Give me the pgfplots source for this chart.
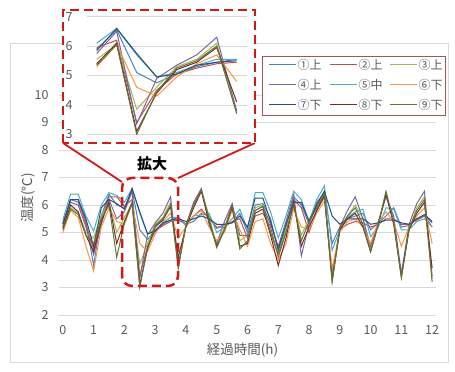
\documentclass[border=0pt]{standalone}
\usepackage{fontspec}
\setmainfont{Noto Sans CJK JP}
\usepackage{pgfplots}
\pgfplotsset{compat=1.18}
\usepackage{pgfplotstable}
\definecolor{c1}{HTML}{4F81BD}
\definecolor{c2}{HTML}{C0504D}
\definecolor{c3}{HTML}{9BBB59}
\definecolor{c4}{HTML}{8064A2}
\definecolor{c5}{HTML}{4BACC6}
\definecolor{c6}{HTML}{F79646}
\definecolor{c7}{HTML}{2C4D75}
\definecolor{c8}{HTML}{772C2A}
\definecolor{c9}{HTML}{5F7530}
\definecolor{gridgray}{HTML}{D9D9D9}
\definecolor{labelgray}{HTML}{595959}
\definecolor{zoomred}{RGB}{210,25,25}
\definecolor{legborder}{RGB}{165,85,85}

\pgfplotstableread{
t s1 s2 s3 s4 s5 s6 s7 s8 s9
0 5.3 5.2 5.2 5.35 5.45 5.0 5.3 5.15 5.1
0.25 6.2 6.2 5.9 6.1 6.4 5.8 6.2 6.0 5.85
0.5 6.1 6.2 5.7 6.0 6.4 5.55 6.2 5.75 5.65
0.75 5.4 5.3 5.0 5.2 5.6 4.5 5.5 4.9 4.9
1 3.8 4.4 4.8 4.2 5.05 3.6 4.5 4.3 4.6
1.25 5.6 5.5 5.6 5.3 6.0 5.2 5.9 5.4 5.5
1.5 6.4 6.3 6.1 6.2 6.45 5.9 6.2 6.1 6.0
1.75 6.0 6.3 5.0 5.5 6.35 5.4 6.05 4.6 4.1
2 5.9 5.95 5.55 5.75 6.1 5.3 5.85 5.4 5.35
2.25 6.55 6.2 6.05 6.5 6.6 6.05 6.6 6.1 6.05
2.5 5.1 3.4 3.85 3.35 5.7 4.6 5.75 3.1 3.0
2.75 4.75 4.5 4.6 4.9 4.95 4.3 4.95 4.4 4.45
3 5.05 5.05 5.3 5.35 5.1 4.95 5.05 5.2 5.25
3.25 5.3 5.25 5.55 5.7 5.35 5.4 5.35 5.45 5.5
3.5 5.45 5.4 6.1 6.3 5.55 5.7 5.45 5.95 6.0
3.75 5.55 5.45 3.75 3.8 5.55 4.8 5.5 4.1 3.7
4 5.3 5.3 5.3 5.25 5.25 5.2 5.4 5.2 5.25
4.25 5.4 5.6 6.0 6.1 5.6 5.6 5.5 5.9 6.0
4.5 5.7 5.85 6.55 6.6 5.65 5.8 5.6 6.5 6.55
4.75 5.6 5.5 5.6 5.3 5.7 5.2 5.5 5.4 5.5
5 5.15 5.2 4.5 4.6 5.0 4.7 5.3 4.5 4.45
5.25 5.3 5.2 5.2 5.4 5.2 5.0 5.3 5.1 5.1
5.5 5.35 5.4 6.0 6.05 5.5 5.8 5.35 5.9 6.0
5.75 5.7 5.5 4.7 4.9 5.85 5.1 5.6 4.5 4.4
6 5.0 4.8 4.9 4.9 5.1 4.5 5.2 4.6 4.7
6.25 6.0 5.6 5.9 5.8 6.45 5.4 6.25 5.7 5.8
6.5 6.05 5.7 6.0 5.95 6.45 5.5 6.25 5.85 5.95
6.75 5.5 5.2 5.0 5.3 5.75 4.6 5.4 4.9 5.0
7 4.3 4.1 4.2 4.5 4.8 4.0 4.4 3.8 4.2
7.25 5.2 5.0 5.1 5.4 5.6 4.6 5.3 4.8 5.0
7.5 6.3 6.2 6.0 6.4 6.5 5.85 6.1 6.1 6.0
7.75 6.0 5.9 4.9 4.15 6.2 5.2 6.1 4.5 4.7
8 5.3 5.0 5.5 5.3 5.4 5.1 5.4 5.2 5.4
8.25 6.0 5.8 5.9 6.1 6.2 5.7 6.0 5.8 5.9
8.5 6.5 6.3 6.4 6.45 6.7 6.15 6.5 6.35 6.4
8.75 4.6 3.5 3.3 3.4 4.35 3.7 5.6 3.25 3.2
9 5.2 5.1 5.15 5.2 5.1 5.0 5.3 5.1 5.15
9.25 5.5 5.3 5.6 5.8 5.55 5.4 5.5 5.5 5.6
9.5 5.6 5.4 6.0 6.3 5.75 5.5 5.5 5.7 5.9
9.75 5.7 5.35 5.5 5.5 5.85 5.2 5.5 5.2 5.3
10 5.1 5.2 4.4 4.5 4.85 4.6 5.3 4.3 4.3
10.25 5.35 5.3 5.3 5.4 5.2 5.4 5.35 5.3 5.3
10.5 5.6 5.5 6.4 6.3 5.9 5.75 5.45 6.4 6.5
10.75 5.9 5.5 5.4 5.6 5.85 5.4 5.45 5.3 5.4
11 5.2 5.3 3.4 3.5 5.1 4.5 5.35 3.4 3.35
11.25 5.25 5.3 5.1 5.3 5.1 5.2 5.3 5.1 5.15
11.5 5.5 5.45 5.9 6.05 5.4 5.6 5.5 5.7 5.8
11.75 5.6 5.6 6.3 6.5 5.5 5.9 5.65 6.1 6.2
12 5.35 5.2 3.3 3.4 5.2 4.6 5.4 3.7 3.2
}\datatable

\pgfplotsset{
  mystyle/.style={
    scale only axis,
    axis line style={draw=none},
    major tick length=0pt,
    ymajorgrids,
    grid style={gridgray, line width=0.75pt},
    tick label style={font=\fontsize{12.5}{14}\selectfont, text=labelgray},
    /pgf/number format/assume math mode=true,
    every axis plot/.append style={line width=1pt, mark=none},
  },
}
\newcommand{\legitem}[4]{% x, y, color, text
  \draw[draw=#3, line width=1pt] (#1,#2) -- ({#1+27},#2);
  \node[anchor=west, inner sep=0pt, text=labelgray, font=\fontsize{12}{14}\selectfont] at ({#1+28.5},#2) {#4};
}

\begin{document}
\begin{tikzpicture}[x=1pt,y=1pt]
\useasboundingbox (0pt,0pt) rectangle (455pt,372pt);
% chart border
\draw[gridgray, line width=0.75pt] (10.5pt,10pt) rectangle (448pt,329pt);

\begin{axis}[mystyle,
  at={(59pt,57pt)}, anchor=south west,
  width=377pt, height=220pt,
  xmin=-0.125, xmax=12.125, ymin=2, ymax=10,
  xtick={0,1,...,12}, ytick={2,3,...,10},
  xticklabel style={yshift=-7pt},
  yticklabel style={xshift=-7pt},
]
\addplot[color=c1] table[x=t,y=s1]{\datatable};
\addplot[color=c2] table[x=t,y=s2]{\datatable};
\addplot[color=c3] table[x=t,y=s3]{\datatable};
\addplot[color=c4] table[x=t,y=s4]{\datatable};
\addplot[color=c5] table[x=t,y=s5]{\datatable};
\addplot[color=c6] table[x=t,y=s6]{\datatable};
\addplot[color=c7] table[x=t,y=s7]{\datatable};
\addplot[color=c8] table[x=t,y=s8]{\datatable};
\addplot[color=c9] table[x=t,y=s9]{\datatable};
\end{axis}

% legend
\draw[draw=legborder, fill=white, line width=0.75pt] (262pt,257pt) rectangle (445pt,316pt);
\legitem{269}{307}{c1}{①上}
\legitem{330}{307}{c2}{②上}
\legitem{390}{307}{c3}{③上}
\legitem{269}{287}{c4}{④上}
\legitem{330}{287}{c5}{⑤中}
\legitem{390}{287}{c6}{⑥下}
\legitem{269}{267}{c7}{⑦下}
\legitem{330}{267}{c8}{⑧下}
\legitem{390}{267}{c9}{⑨下}

% axis titles
\node[rotate=90, text=labelgray, font=\fontsize{13.5}{15}\selectfont] at (28pt,174pt) {温度(℃)};
\node[text=labelgray, font=\fontsize{13.5}{15}\selectfont] at (242.5pt,22pt) {経過時間(h)};

% zoom region box in main chart
\draw[zoomred, line width=2.5pt, dash pattern=on 9pt off 5pt, rounded corners=10pt] (122pt,86pt) rectangle (178pt,194pt);
% connector lines
\draw[zoomred, line width=1.8pt] (63pt,229pt) -- (122pt,190pt);
\draw[zoomred, line width=1.8pt] (255pt,229pt) -- (178pt,194pt);
\node[font=\bfseries\fontsize{15}{17}\selectfont] at (152pt,208pt) {拡大};

% inset
\fill[white] (63pt,229pt) rectangle (255pt,362pt);
\begin{axis}[mystyle,
  at={(86.7pt,237.7pt)}, anchor=south west,
  width=160pt, height=117.6pt,
  xmin=1.875, xmax=3.875, ymin=3, ymax=7,
  xtick=\empty, ytick={3,4,...,7},
  yticklabel style={xshift=-10.5pt},
  restrict x to domain=1.99:3.76,
]
\addplot[color=c1] table[x=t,y=s1]{\datatable};
\addplot[color=c2] table[x=t,y=s2]{\datatable};
\addplot[color=c3] table[x=t,y=s3]{\datatable};
\addplot[color=c4] table[x=t,y=s4]{\datatable};
\addplot[color=c5] table[x=t,y=s5]{\datatable};
\addplot[color=c6] table[x=t,y=s6]{\datatable};
\addplot[color=c7] table[x=t,y=s7]{\datatable};
\addplot[color=c8] table[x=t,y=s8]{\datatable};
\addplot[color=c9] table[x=t,y=s9]{\datatable};
\end{axis}
\draw[zoomred, line width=2.5pt, dash pattern=on 9pt off 5pt] (63pt,229pt) rectangle (255pt,362pt);
\end{tikzpicture}
\end{document}
